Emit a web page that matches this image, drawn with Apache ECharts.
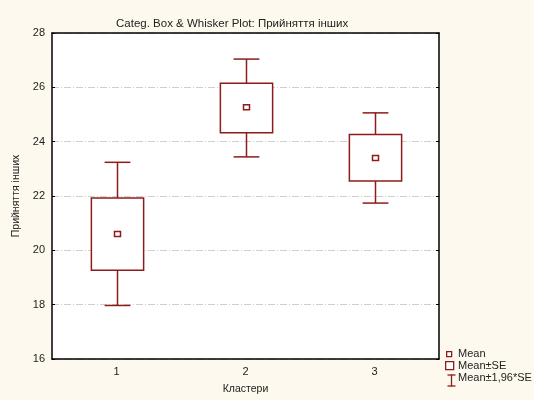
<!DOCTYPE html>
<html>
<head>
<meta charset="utf-8">
<script src="https://cdn.jsdelivr.net/npm/echarts@6/dist/echarts.min.js"></script>
<style>
  html, body { margin: 0; padding: 0; background: #fef9ee; }
  #chart { width: 534px; height: 400px; }
</style>
</head>
<body>
<div id="chart"></div>
<script>
// дані
var categories = ['1', '2', '3'];
var means = [20.6, 25.27, 23.4];
var seLow = [19.27, 24.33, 22.55];
var seHigh = [21.93, 26.15, 24.26];
var ciLow = [17.97, 23.44, 21.74];
var ciHigh = [23.24, 27.04, 25.06];
var yTicks = [16, 18, 20, 22, 24, 26, 28];

var boxColor = '#8e1b1b';
var font = 'Liberation Sans, Arial, sans-serif';

var chart = echarts.init(document.getElementById('chart'));

var boxData = [];
for (var i = 0; i < categories.length; i++) {
    boxData.push([i, ciLow[i], seLow[i], means[i], seHigh[i], ciHigh[i]]);
}

function renderBox(params, api) {
    var x = api.value(0);
    var lo = api.coord([x, api.value(1)]);
    var q1 = api.coord([x, api.value(2)]);
    var m = api.coord([x, api.value(3)]);
    var q3 = api.coord([x, api.value(4)]);
    var hi = api.coord([x, api.value(5)]);
    var band = api.size([1, 0])[0];
    var bw = band * 0.405;
    var cw = band * 0.2;
    var cx = Math.round(m[0]) + 0.5;
    var st = { stroke: boxColor, lineWidth: 1.5, fill: null };
    return {
        type: 'group',
        children: [
            { type: 'line', shape: { x1: cx, y1: hi[1], x2: cx, y2: q3[1] }, style: st },
            { type: 'line', shape: { x1: cx, y1: q1[1], x2: cx, y2: lo[1] }, style: st },
            { type: 'line', shape: { x1: cx - cw / 2, y1: hi[1], x2: cx + cw / 2, y2: hi[1] }, style: st },
            { type: 'line', shape: { x1: cx - cw / 2, y1: lo[1], x2: cx + cw / 2, y2: lo[1] }, style: st },
            { type: 'rect', shape: { x: cx - bw / 2, y: q3[1], width: bw, height: q1[1] - q3[1] },
              style: { stroke: boxColor, lineWidth: 1.5, fill: '#fff' } },
            { type: 'rect', shape: { x: cx - 3, y: m[1] - 2.5, width: 6, height: 5 },
              style: { stroke: boxColor, lineWidth: 1.5, fill: '#fff' } }
        ]
    };
}

var gridStyle = { color: '#cfcfcf', width: 1, type: [7, 2, 1, 2] };

option = {
    backgroundColor: '#fef9ee',
    animation: false,
    title: {
        text: 'Categ. Box & Whisker Plot: Прийняття інших',
        left: 111,
        top: 13,
        textStyle: { fontSize: 11.5, fontWeight: 'normal', color: '#222', fontFamily: font }
    },
    grid: { left: 52, right: 95, top: 33, bottom: 38, backgroundColor: '#fff', show: true, borderWidth: 0 },
    xAxis: [
        {
            type: 'category',
            data: categories,
            boundaryGap: true,
            name: 'Кластери',
            nameLocation: 'middle',
            nameGap: 25,
            nameTextStyle: { fontSize: 10.5, color: '#222', fontFamily: font },
            axisLine: { lineStyle: { color: '#000', width: 1.5 } },
            axisTick: { inside: true, length: 4, alignWithLabel: true, lineStyle: { color: '#000' } },
            axisLabel: { fontSize: 11, color: '#222', margin: 7, fontFamily: font },
            splitLine: { show: false }
        },
        {
            type: 'category',
            data: categories,
            position: 'top',
            boundaryGap: true,
            axisLine: { lineStyle: { color: '#000', width: 1.5 } },
            axisTick: { inside: true, length: 4, alignWithLabel: true, lineStyle: { color: '#000' } },
            axisLabel: { show: false }
        }
    ],
    yAxis: [
        {
            type: 'value',
            min: 16,
            max: 28,
            interval: 2,
            name: 'Прийняття інших',
            nameLocation: 'middle',
            nameGap: 28,
            nameTextStyle: { fontSize: 10.5, color: '#222', fontFamily: font },
            axisLine: { show: true, lineStyle: { color: '#000', width: 1.5 } },
            axisTick: { show: true, inside: true, length: 3, lineStyle: { color: '#000' } },
            axisLabel: {
                fontSize: 11, color: '#222', margin: 7, fontFamily: font,
                formatter: function (v) { return yTicks.indexOf(v) >= 0 ? String(v) : ''; }
            },
            splitLine: { show: true, lineStyle: gridStyle }
        },
        {
            type: 'value',
            min: 16,
            max: 28,
            interval: 2,
            position: 'right',
            axisLine: { show: true, lineStyle: { color: '#000', width: 1.5 } },
            axisTick: { show: true, inside: true, length: 3, lineStyle: { color: '#000' } },
            axisLabel: { show: false },
            splitLine: { show: false }
        }
    ],
    series: [
        {
            type: 'custom',
            name: 'Mean',
            xAxisIndex: 0,
            yAxisIndex: 0,
            renderItem: renderBox,
            encode: { x: 0, y: [1, 2, 3, 4, 5] },
            data: boxData,
            z: 3
        }
    ],
    graphic: [
        // легенда
        { type: 'rect', left: 446, top: 351, shape: { width: 5, height: 5 },
          style: { stroke: boxColor, lineWidth: 1.3, fill: '#fff' } },
        { type: 'text', left: 458, top: 348, style: { text: 'Mean', fontSize: 11, fill: '#222', fontFamily: font } },
        { type: 'rect', left: 445, top: 361, shape: { width: 8, height: 8 },
          style: { stroke: boxColor, lineWidth: 1.3, fill: '#fff' } },
        { type: 'text', left: 458, top: 360, style: { text: 'Mean±SE', fontSize: 11, fill: '#222', fontFamily: font } },
        { type: 'group', left: 445, top: 372, children: [
            { type: 'line', shape: { x1: 0, y1: 0.5, x2: 8, y2: 0.5 }, style: { stroke: boxColor, lineWidth: 1.3 } },
            { type: 'line', shape: { x1: 4, y1: 0, x2: 4, y2: 12 }, style: { stroke: boxColor, lineWidth: 1.3 } },
            { type: 'line', shape: { x1: 0, y1: 11.5, x2: 8, y2: 11.5 }, style: { stroke: boxColor, lineWidth: 1.3 } }
        ] },
        { type: 'text', left: 458, top: 372, style: { text: 'Mean±1,96*SE', fontSize: 11, fill: '#222', fontFamily: font } }
    ]
};

chart.setOption(option);
</script>
</body>
</html>
